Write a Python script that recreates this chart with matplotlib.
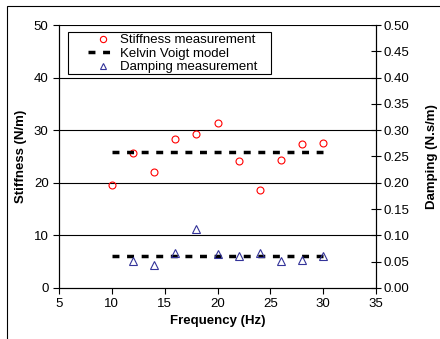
import matplotlib
matplotlib.use("Agg")
import matplotlib.pyplot as plt
from matplotlib.lines import Line2D
from matplotlib.patches import Rectangle
from matplotlib.ticker import MultipleLocator, FormatStrFormatter

plt.rcParams["font.family"] = ["Liberation Sans", "DejaVu Sans"]

# measured data
freq_stiff = [10, 12, 14, 16, 18, 20, 22, 24, 26, 28, 30]
stiffness = [19.5, 25.6, 22.1, 28.4, 29.3, 31.3, 24.1, 18.6, 24.3, 27.3, 27.6]
freq_damp = [12, 14, 16, 18, 20, 22, 24, 26, 28, 30]
damping = [0.051, 0.044, 0.067, 0.113, 0.065, 0.060, 0.067, 0.052, 0.053, 0.060]

# Kelvin Voigt model
kv_freq = [10, 30]
kv_stiff = [25.9, 25.9]
kv_damp = [0.060, 0.060]

FS = 9.5
DASH = (0, (2, 2.2))

fig = plt.figure(figsize=(4.4, 3.39), dpi=100)
# chart frame (only left/top edges visible in the crop)
fig.patches.append(Rectangle((7 / 440, -0.1), 1.2, (339 - 6) / 339 + 0.1,
                             transform=fig.transFigure, fill=False,
                             edgecolor="black", lw=0.8))

ax = fig.add_axes([59 / 440, 51 / 339, 317 / 440, 263 / 339])
ax2 = ax.twinx()

ax.set_xlim(5, 35)
ax.set_ylim(0, 50)
ax2.set_ylim(0, 0.5)

for y in [10, 20, 30, 40, 50]:
    ax.axhline(y, color="black", lw=0.8, zorder=0)

ax.plot(freq_stiff, stiffness, "o", mfc="none", mec="red", ms=5, mew=0.8)
ax.plot(kv_freq, kv_stiff, color="black", ls=DASH, lw=2.5)
ax2.plot(kv_freq, kv_damp, color="black", ls=DASH, lw=2.5)
ax2.plot(freq_damp, damping, "^", mfc="none", mec="#333399", ms=5.5, mew=0.8)

ax.xaxis.set_major_locator(MultipleLocator(5))
ax.yaxis.set_major_locator(MultipleLocator(10))
ax2.yaxis.set_major_locator(MultipleLocator(0.05))
ax2.yaxis.set_major_formatter(FormatStrFormatter("%.2f"))

ax.tick_params(axis="both", direction="out", length=4, width=0.8, labelsize=FS)
ax2.tick_params(axis="y", direction="inout", length=7, width=0.8, labelsize=FS, pad=2)

for a in (ax, ax2):
    a.spines["top"].set_visible(False)
    for s in ("left", "right", "bottom"):
        a.spines[s].set_linewidth(0.8)

ax.set_xlabel("Frequency (Hz)", fontsize=FS, fontweight="bold", labelpad=3)
ax.set_ylabel("Stiffness (N/m)", fontsize=FS, fontweight="bold", labelpad=5)
ax2.set_ylabel("Damping (N.s/m)", fontsize=FS, fontweight="bold", labelpad=12)

# legend: frame drawn separately, text placed inside
ax2.add_patch(Rectangle((9 / 317, 1 - 49 / 263), 203 / 317, 42 / 263,
                        transform=ax2.transAxes, fill=True, facecolor="white",
                        edgecolor="black", lw=0.8, zorder=4))
handles = [
    Line2D([], [], marker="o", ls="none", mfc="none", mec="red", ms=4.5, mew=0.8),
    Line2D([], [], color="black", ls=DASH, lw=2.5),
    Line2D([], [], marker="^", ls="none", mfc="none", mec="#333399", ms=5, mew=0.8),
]
labels = ["Stiffness measurement", "Kelvin Voigt model", "Damping measurement"]
leg = ax2.legend(handles, labels, loc="upper left", bbox_to_anchor=(29 / 317, 1 - 9 / 263),
                 fontsize=FS, frameon=False, borderpad=0, labelspacing=0.1,
                 handlelength=2.2, handletextpad=0.25, borderaxespad=0)
leg.set_zorder(5)

fig.savefig("out.png", dpi=100)
